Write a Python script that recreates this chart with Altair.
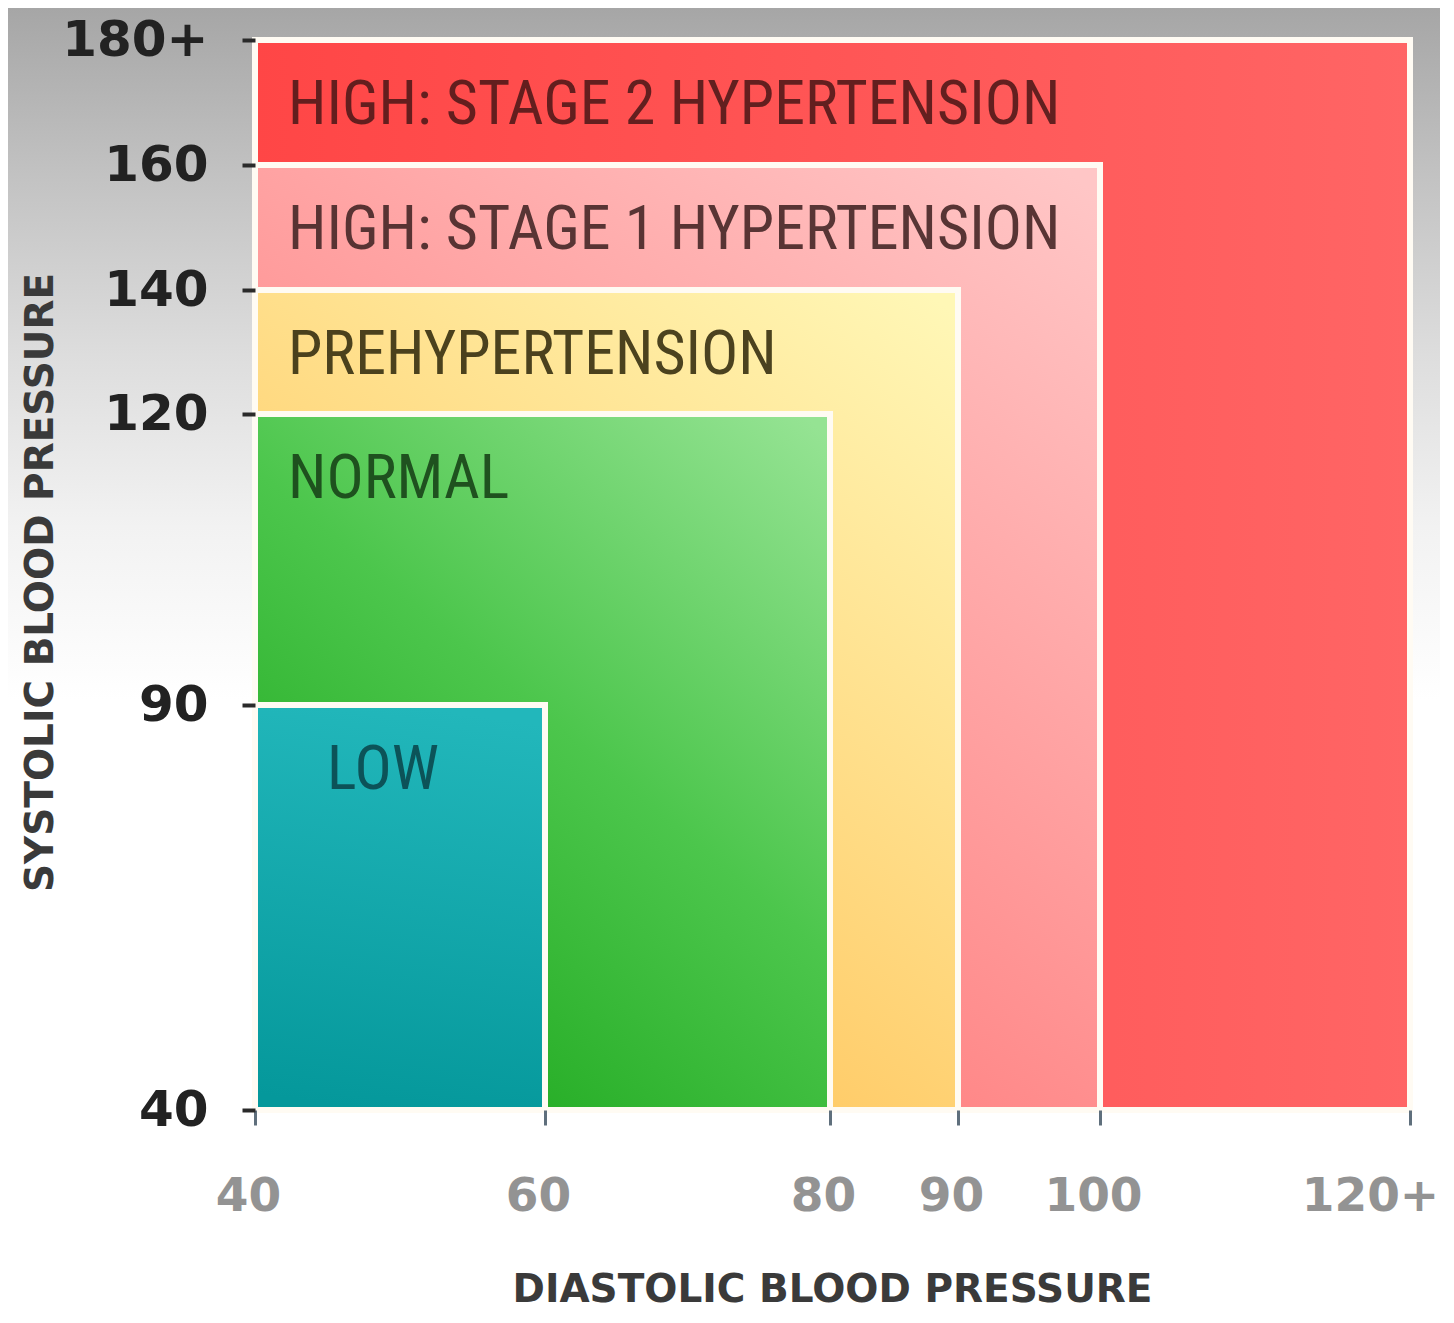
import altair as alt
import pandas as pd

# ---- data -------------------------------------------------------------
categories = ["HIGH: STAGE 2 HYPERTENSION", "HIGH: STAGE 1 HYPERTENSION",
              "PREHYPERTENSION", "NORMAL", "LOW"]
diastolic_low = [40, 40, 40, 40, 40]
diastolic_high = [120, 100, 90, 80, 60]
systolic_low = [40, 40, 40, 40, 40]
systolic_high = [180, 160, 140, 120, 90]

x_ticks = [40, 60, 80, 90, 100, 120]
x_tick_labels = ["40", "60", "80", "90", "100", "120+"]
y_ticks = [40, 90, 120, 140, 160, 180]
y_tick_labels = ["40", "90", "120", "140", "160", "180+"]

df = pd.DataFrame({
    "category": categories,
    "dlo": diastolic_low,
    "dhi": diastolic_high,
    "slo": systolic_low,
    "shi": systolic_high,
})

# ---- styling ----------------------------------------------------------
W, H = 1155, 1070


def grad(c0, c1, x1, y1, x2, y2, mid=None):
    stops = [{"offset": 0, "color": c0}]
    if mid:
        stops.append({"offset": 0.5, "color": mid})
    stops.append({"offset": 1, "color": c1})
    return {"gradient": "linear", "x1": x1, "y1": y1, "x2": x2, "y2": y2, "stops": stops}


fills = [
    grad("#ff4646", "#ff6565", 0, 0.5, 1, 0.5),
    grad("#ffc6c6", "#ff7474", 0.95, 0, 0.3, 1),
    grad("#fff7b6", "#ffbf52", 0.95, 0, 0.3, 1),
    grad("#95e393", "#1ea81e", 0.95, 0, 0.25, 1, mid="#4cc64c"),
    grad("#22b7bb", "#05989b", 0.5, 0, 0.4, 1),
]
text_colors = ["#561b1b", "#4a2a2a", "#3c3414", "#1a471a", "#0b4b51"]
label_font = "Liberation Sans Narrow, Roboto Condensed, DejaVu Sans Condensed, Liberation Sans, sans-serif"
axis_font = "DejaVu Sans"


def label_expr(vals, labels):
    expr = "datum.label"
    for v, l in zip(vals, labels):
        expr = f"datum.value == {v} ? '{l}' : ({expr})"
    return expr


x_scale = alt.Scale(domain=x_ticks, range=[0, 290, 575, 703, 845, 1155], nice=False, zero=False)
y_scale = alt.Scale(domain=y_ticks, range=[1070, 665, 374, 250, 125, 0], nice=False, zero=False)

x_axis = alt.Axis(
    values=x_ticks, labelExpr=label_expr(x_ticks, x_tick_labels),
    title="DIASTOLIC BLOOD PRESSURE", grid=False, domain=False, zindex=2,
    ticks=True, tickSize=15, tickWidth=3, tickColor="#5f6f7c",
    labelFont=axis_font, labelFontWeight="bold", labelFontSize=47,
    labelColor="#939393", labelPadding=48,
    labelOffset={"condition": {"test": "datum.value == 120", "value": -40}, "value": -7},
    titleFont=axis_font, titleFontWeight="bold", titleFontSize=39, titleColor="#3a3a3a",
    titleX=577, titleY=179, titleAlign="center", titleBaseline="middle",
    labelFlush=False, labelOverlap=False,
)
y_axis = alt.Axis(
    values=y_ticks, labelExpr=label_expr(y_ticks, y_tick_labels),
    title="SYSTOLIC BLOOD PRESSURE", grid=False, domain=False, zindex=2,
    ticks=True, tickSize=13, tickWidth=4, tickColor="#2a2a2a",
    labelFont=axis_font, labelFontWeight="bold", labelFontSize=50,
    labelColor="#222222", labelPadding=34, labelFlush=False, labelOverlap=False,
    titleFont=axis_font, titleFontWeight="bold", titleFontSize=39, titleColor="#3a3a3a",
    titleAngle=270, titleX=-215, titleY=542, titleAlign="center", titleBaseline="middle",
)

enc = dict(
    x=alt.X("dlo:Q", scale=x_scale, axis=x_axis),
    x2="dhi:Q",
    y=alt.Y("slo:Q", scale=y_scale, axis=y_axis),
    y2="shi:Q",
)

# background wash (decoration only)
bg = alt.Chart(pd.DataFrame({"k": [0]})).mark_rect(
    fill={"gradient": "linear", "x1": 0, "y1": 0, "x2": 0, "y2": 1,
          "stops": [{"offset": 0, "color": "#a6a6a6"},
                    {"offset": 0.25, "color": "#c3c3c3"},
                    {"offset": 0.5, "color": "#dddddd"},
                    {"offset": 0.75, "color": "#f2f2f2"},
                    {"offset": 1, "color": "#ffffff"}]}
).encode(x=alt.value(-247), x2=alt.value(W + 40), y=alt.value(-32), y2=alt.value(660))

layers = [bg]
for i, cat in enumerate(categories):
    layers.append(
        alt.Chart(df).transform_filter(alt.datum.category == cat)
        .mark_rect(fill=fills[i], stroke="#fffbf3", strokeWidth=6)
        .encode(**enc)
    )

text_enc = dict(
    x=alt.X("dlo:Q", scale=x_scale, axis=x_axis),
    y=alt.Y("shi:Q", scale=y_scale, axis=y_axis),
    text="category:N",
    color=alt.Color("category:N", scale=alt.Scale(domain=categories, range=text_colors), legend=None),
)
labels_main = alt.Chart(df).transform_filter(alt.datum.category != "LOW").mark_text(
    align="left", baseline="middle", dx=33, dy=65, font=label_font, fontSize=62, opacity=0.92
).encode(**text_enc)
labels_low = alt.Chart(df).transform_filter(alt.datum.category == "LOW").mark_text(
    align="left", baseline="middle", dx=72, dy=65, font=label_font, fontSize=62, opacity=0.92
).encode(**text_enc)
layers += [labels_main, labels_low]

chart = alt.layer(*layers).properties(
    width=W, height=H,
    autosize=alt.AutoSizeParams(type="none"),
    padding={"left": 247, "top": 32, "right": 30, "bottom": 206},
    background="white",
).configure_view(stroke=None)

chart.save("out.html", embed_options={"renderer": "svg", "actions": False})
